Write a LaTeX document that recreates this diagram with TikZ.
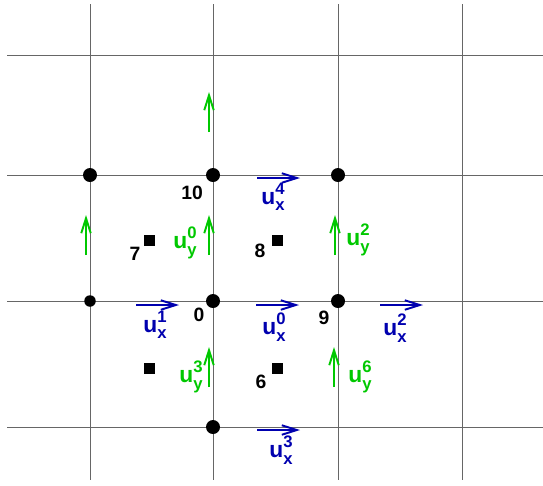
\documentclass[tikz,border=0pt]{standalone}
\usepackage{fontspec}
\setmainfont{Liberation Sans}
\usetikzlibrary{arrows.meta,positioning}
\definecolor{ublue}{RGB}{0,0,175}
\definecolor{ugreen}{RGB}{0,200,0}
\newcommand{\ucomp}[2]{u\rlap{\raisebox{0.42em}{\fontsize{9.5}{9.5}\selectfont #2}}\raisebox{-0.3em}{\fontsize{9.5}{9.5}\selectfont #1}}
\tikzset{
  gline/.style={black!60,line width=0.55pt},
  vert/.style={circle,fill=black,inner sep=0pt,minimum size=2.8mm},
  svert/.style={vert,minimum size=2.3mm},
  cell/.style={rectangle,fill=black,inner sep=0pt,minimum size=2.2mm},
  uxarr/.style={ublue,line width=1.1pt,-{Straight Barb[length=3mm,width=1.9mm]}},
  uyarr/.style={ugreen,line width=1.1pt,-{Straight Barb[length=3mm,width=1.9mm]}},
  lbl/.style={font=\fontsize{11}{13}\selectfont\bfseries,inner sep=0pt},
  uxlbl/.style={lbl,ublue,font=\fontsize{13}{15}\selectfont\bfseries},
  uylbl/.style={lbl,ugreen,font=\fontsize{13}{15}\selectfont\bfseries},
}
\begin{document}
\begin{tikzpicture}[x=0.02cm,y=-0.02cm]
  \useasboundingbox (0,0) rectangle (543,485);
  % ------------- grid -------------
  \foreach \x in {90,213,338,462}
    \draw[gline] (\x,4) -- (\x,480);
  \foreach \y in {55,175,301,427}
    \draw[gline] (7,\y) -- (543,\y);
  % ------------- vertices and cells -------------
  \node[vert]  (pa)  at (90,175) {};
  \node[vert]  (p10) at (213,175) {};
  \node[vert]  (pb)  at (338,175) {};
  \node[svert] (pc)  at (90,301) {};
  \node[vert]  (p0)  at (213,301) {};
  \node[vert]  (p9)  at (338,301) {};
  \node[vert]  (pd)  at (213,427) {};
  \node[cell] (c7) at (149,240) {};
  \node[cell] (c8) at (277,240) {};
  \node[cell] (ce) at (149,368) {};
  \node[cell] (c6) at (277,368) {};
  % numbers
  \node[lbl] at (192,193) {10};
  \node[lbl] at (135,254) {7};
  \node[lbl] at (199,315) {0};
  \node[lbl] at (260,251) {8};
  \node[lbl] at (324,318) {9};
  \node[lbl] at (261,382) {6};
  % ------------- x components -------------
  \coordinate (ux4) at (257,178);
  \coordinate (ux1) at (136,305);
  \coordinate (ux0) at (256,305);
  \coordinate (ux2) at (380,305);
  \coordinate (ux3) at (257,430);
  \foreach \c in {ux4,ux1,ux0,ux2,ux3}
    \draw[uxarr] (\c) -- ++(43,0);
  \node[uxlbl] at (273,197) {\ucomp{x}{4}};
  \node[uxlbl] at (155,325) {\ucomp{x}{1}};
  \node[uxlbl] at (274,327) {\ucomp{x}{0}};
  \node[uxlbl] at (395,328) {\ucomp{x}{2}};
  \node[uxlbl] at (281,450) {\ucomp{x}{3}};
  % ------------- y components -------------
  \coordinate (uya) at (86,255);
  \coordinate (uyb) at (209,132);
  \coordinate (uy0) at (209,255);
  \coordinate (uy2) at (335,255);
  \coordinate (uy3) at (209,387);
  \coordinate (uy6) at (334,387);
  \foreach \c in {uya,uyb,uy0,uy2,uy3,uy6}
    \draw[uyarr] (\c) -- ++(0,-40);
  \node[uylbl] at (185,243) {\ucomp{y}{0}};
  \node[uylbl] at (358,240) {\ucomp{y}{2}};
  \node[uylbl] at (191,377) {\ucomp{y}{3}};
  \node[uylbl] at (360,377) {\ucomp{y}{6}};
\end{tikzpicture}
\end{document}
